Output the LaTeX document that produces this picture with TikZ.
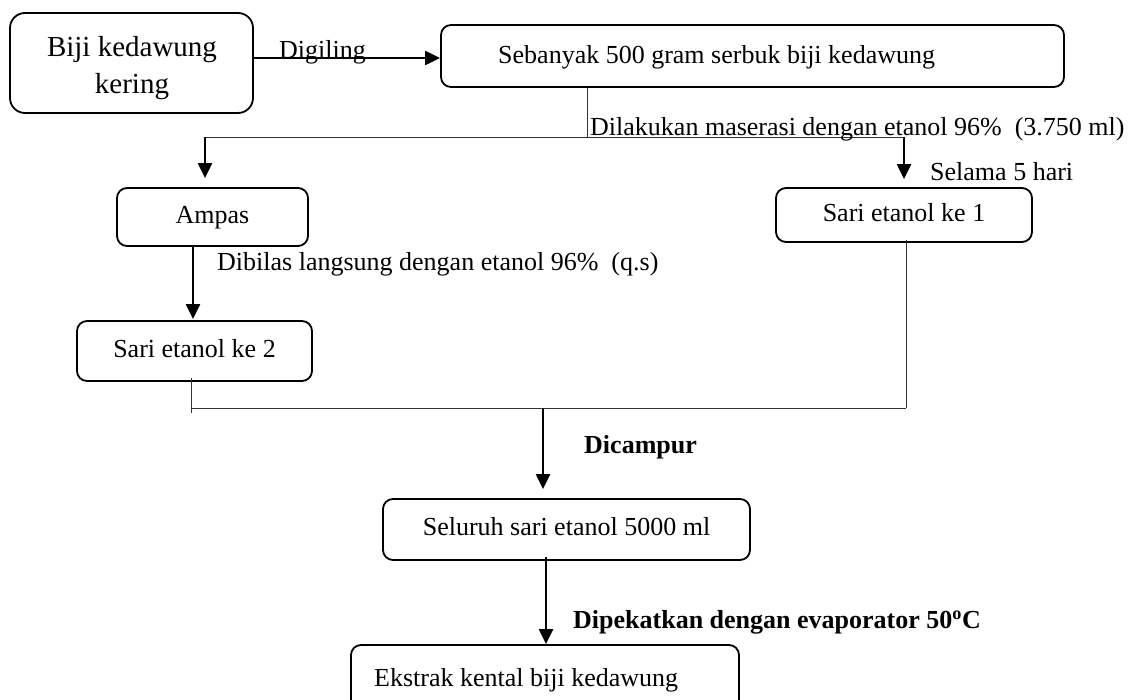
\documentclass[tikz,border=0pt]{standalone}
\usepackage{fontspec}
\setmainfont{Liberation Serif}
\usetikzlibrary{arrows.meta}
\begin{document}
\begin{tikzpicture}[x=1pt,y=-1pt,
  txt/.style={inner sep=0pt,font=\fontsize{26}{30}\selectfont},
  btxt/.style={inner sep=0pt,font=\fontsize{26}{30}\selectfont\bfseries},
  box/.style={draw,line width=1.8pt,rounded corners=10pt,inner sep=0pt,text height=17pt,text depth=5pt,font=\fontsize{26}{30}\selectfont},
  arr/.style={line width=2.2pt,-{Triangle[length=15pt,width=14pt]}},
  thinl/.style={line width=1pt,black!80}]
\useasboundingbox (0,0) rectangle (1143,699);
\clip (0,0) rectangle (1143,699);
% boxes
\node[box,rounded corners=15pt,minimum width=243pt,minimum height=100pt] (b1) at (131.5,63) {};
\node[inner sep=0pt,align=center,font=\fontsize{29}{37}\selectfont] (t1) at (132,68) {Biji kedawung\\kering};
\node[box,minimum width=623pt,minimum height=62pt] (b2) at (752.5,56) {};
\node[txt,anchor=west] (t2) at (498,57) {Sebanyak 500 gram serbuk biji kedawung};
\node[box,minimum width=191pt,minimum height=58pt] (amp) at (212.5,217) {Ampas};
\node[box,minimum width=256pt,minimum height=54pt] (s1) at (904,215) {Sari etanol ke 1};
\node[box,minimum width=235pt,minimum height=60pt] (s2) at (194.5,351) {Sari etanol ke 2};
\node[box,minimum width=367pt,minimum height=61pt] (sel) at (566.5,529.5) {Seluruh sari etanol 5000 ml};
\node[box,minimum width=388pt,minimum height=68pt] (ek) at (545,679) {};
\node[txt,anchor=west] (tek) at (374,680) {Ekstrak kental biji kedawung};
% junction coordinates
\coordinate (j1) at (587,137);
\coordinate (jl) at (205,137);
\coordinate (jr) at (904,137);
\coordinate (jb1) at (191,408);
\coordinate (jb2) at (906,408);
\coordinate (jm) at (543,408);
\coordinate (jd) at (546,560);
% connectors
\draw[arr] ([yshift=5pt]b1.east) -- ([yshift=5pt]b1.east -| b2.west);
\node[txt,anchor=base west] (lg) at (279,58) {Digiling};
\draw[thinl] (b2.south -| j1) -- (j1);
\draw[thinl] (jl) -- (jr);
\draw[arr,shorten >=9pt] (jl) -- (amp.north -| jl);
\draw[arr,shorten >=8pt] (jr) -- (s1.north -| jr);
\node[txt,anchor=base west] (lm) at (590,135) {Dilakukan maserasi dengan etanol 96\%\ \ (3.750 ml)};
\node[txt,anchor=west] (ls) at (930,172) {Selama 5 hari};
\draw[arr,shorten >=1pt] ([xshift=-19.5pt]amp.south) -- ([xshift=-1.5pt]s2.north);
\node[txt,anchor=west] (lb) at (217,264) {Dibilas langsung dengan etanol 96\%\ \ (q.s)};
\draw[thinl] ([yshift=4pt]s2.south -| jb1) -- ([yshift=-5pt]jb1);
\draw[thinl] (jb1) -- (jb2);
\draw[thinl] ([yshift=3pt]s1.south -| jb2) -- (jb2);
\draw[arr,shorten >=9pt] (jm) -- (sel.north -| jm);
\node[btxt,anchor=west] (lc) at (584,447) {Dicampur};
\draw[arr] ([yshift=4pt]sel.south -| jd) -- (ek.north -| jd);
\node[btxt,anchor=west] (lp) at (573,622) {Dipekatkan dengan evaporator 50\textsuperscript{o}C};
\end{tikzpicture}
\end{document}
